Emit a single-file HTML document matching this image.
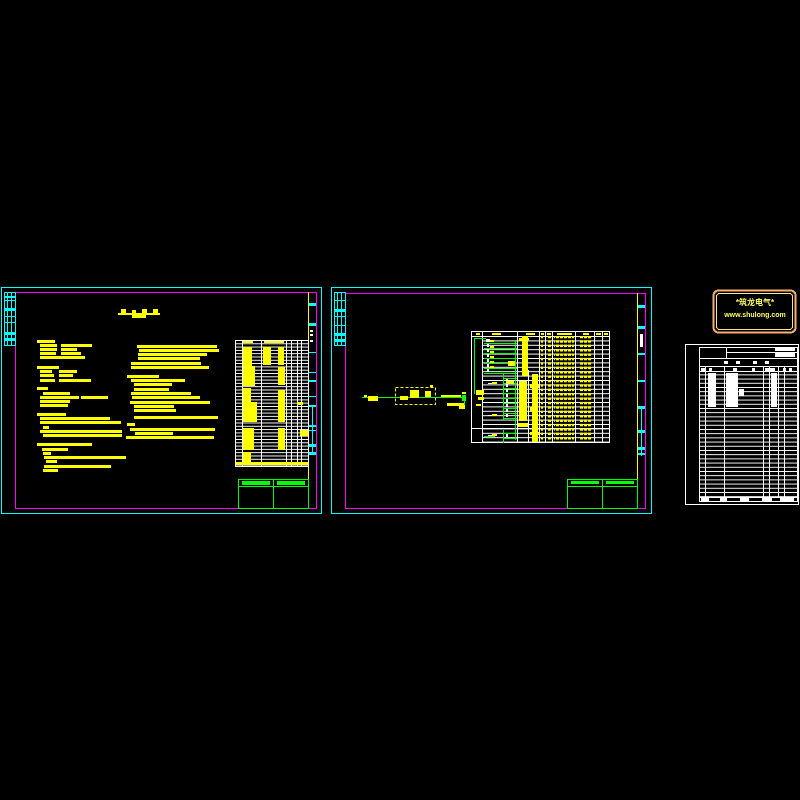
<!DOCTYPE html>
<html><head><meta charset="utf-8"><style>
html,body{margin:0;padding:0;background:#000;}
svg{display:block}
</style></head><body>
<svg width="800" height="800" viewBox="0 0 800 800" xmlns="http://www.w3.org/2000/svg" shape-rendering="crispEdges">
<defs>
<pattern id="rows1" x="0" y="340" width="10" height="3.3" patternUnits="userSpaceOnUse"><rect x="0" y="0" width="10" height="1" fill="#fff"/></pattern>
<pattern id="rows2" x="0" y="336" width="10" height="4.4" patternUnits="userSpaceOnUse"><rect x="0" y="0" width="10" height="1" fill="#fff"/></pattern>
<pattern id="rows3" x="0" y="366" width="10" height="4.2" patternUnits="userSpaceOnUse"><rect x="0" y="0" width="10" height="1" fill="#fff"/></pattern>
<pattern id="tx" x="0" y="0" width="4" height="4.4" patternUnits="userSpaceOnUse"><rect x="0" y="1.5" width="3" height="2.2" fill="#ff0"/></pattern>
</defs>
<rect width="800" height="800" fill="#000"/>

<!-- ========== SHEET 1 ========== -->
<g fill="none">
<rect x="1.5" y="287.5" width="320" height="226" stroke="#0ff"/>
<rect x="15.5" y="292.5" width="301" height="216" stroke="#f0f"/>
<line x1="308.5" y1="292" x2="308.5" y2="508" stroke="#ff0"/>
<rect x="4.5" y="292.5" width="11" height="53" stroke="#0ff"/>
</g>
<g fill="#0ff">
<rect x="5" y="296" width="10" height="2"/><rect x="5" y="300" width="10" height="1"/><rect x="5" y="308" width="10" height="3"/><rect x="5" y="316" width="10" height="1"/><rect x="5" y="322" width="10" height="1"/><rect x="5" y="332" width="10" height="3"/><rect x="5" y="338" width="10" height="3"/>
<rect x="7" y="293" width="1" height="52"/><rect x="11" y="293" width="1" height="52"/>
<rect x="309" y="303" width="7" height="3"/><rect x="309" y="323" width="7" height="3"/><rect x="309" y="352" width="7" height="1"/><rect x="309" y="380" width="7" height="2"/><rect x="309" y="405" width="7" height="2"/><rect x="309" y="425" width="7" height="2"/><rect x="309" y="430" width="7" height="1"/><rect x="309" y="444" width="7" height="3"/><rect x="309" y="452" width="7" height="3"/>
<rect x="309" y="372" width="7" height="1"/><rect x="309" y="396" width="7" height="1"/><rect x="312" y="405" width="1" height="50"/>
</g>
<g fill="#fff"><rect x="310" y="330" width="3" height="2"/><rect x="310" y="334" width="3" height="2"/><rect x="310" y="340" width="3" height="2"/></g>
<g fill="#ff0">
<rect x="118" y="313" width="42" height="2"/><rect x="121" y="309" width="5" height="5"/><rect x="132" y="310" width="4" height="3"/><rect x="142" y="309" width="5" height="5"/><rect x="153" y="309" width="5" height="5"/><rect x="132" y="315" width="14" height="3"/>
</g>
<g fill="#ff0">
<rect x="37" y="340" width="18" height="3"/>
<rect x="40" y="344" width="17" height="3"/><rect x="61" y="344" width="31" height="3"/>
<rect x="40" y="348" width="17" height="3"/><rect x="61" y="348" width="16" height="3"/>
<rect x="40" y="352" width="16" height="3"/><rect x="61" y="352" width="20" height="3"/>
<rect x="40" y="356" width="45" height="3"/>
<rect x="37" y="366" width="22" height="3"/>
<rect x="40" y="370" width="12" height="3"/><rect x="59" y="370" width="18" height="3"/>
<rect x="40" y="374" width="14" height="3"/><rect x="59" y="374" width="14" height="3"/>
<rect x="40" y="379" width="15" height="3"/><rect x="59" y="379" width="32" height="3"/>
<rect x="37" y="387" width="11" height="3"/>
<rect x="43" y="392" width="27" height="3"/>
<rect x="40" y="396" width="39" height="3"/><rect x="81" y="396" width="27" height="3"/>
<rect x="40" y="400" width="30" height="3"/>
<rect x="40" y="404" width="28" height="3"/>
<rect x="37" y="413" width="29" height="3"/>
<rect x="40" y="417" width="70" height="3"/>
<rect x="40" y="421" width="81" height="3"/>
<rect x="43" y="426" width="6" height="3"/>
<rect x="40" y="430" width="82" height="3"/>
<rect x="43" y="434" width="79" height="3"/>
<rect x="37" y="443" width="55" height="3"/>
<rect x="42" y="448" width="26" height="3"/>
<rect x="43" y="452" width="8" height="3"/>
<rect x="44" y="456" width="82" height="3"/>
<rect x="46" y="460" width="11" height="3"/>
<rect x="44" y="465" width="67" height="3"/>
<rect x="43" y="469" width="15" height="3"/>
</g>
<g fill="#ff0">
<rect x="137" y="345" width="80" height="3"/>
<rect x="139" y="349" width="80" height="3"/>
<rect x="138" y="353" width="69" height="3"/>
<rect x="138" y="357" width="62" height="3"/>
<rect x="131" y="362" width="70" height="3"/>
<rect x="131" y="366" width="78" height="3"/>
<rect x="127" y="375" width="32" height="3"/>
<rect x="131" y="379" width="54" height="3"/>
<rect x="134" y="383" width="38" height="3"/>
<rect x="134" y="388" width="35" height="3"/>
<rect x="131" y="392" width="60" height="3"/>
<rect x="132" y="396" width="68" height="3"/>
<rect x="130" y="401" width="80" height="3"/>
<rect x="134" y="405" width="40" height="3"/>
<rect x="134" y="409" width="42" height="3"/>
<rect x="134" y="416" width="84" height="3"/>
<rect x="127" y="423" width="8" height="3"/>
<rect x="130" y="428" width="85" height="3"/>
<rect x="135" y="432" width="38" height="3"/>
<rect x="126" y="436" width="88" height="3"/>
</g>
<rect x="235" y="340" width="74" height="126" fill="url(#rows1)"/>
<g fill="none" stroke="#fff">
<rect x="235.5" y="340.5" width="73" height="126"/>
<line x1="242.5" y1="340" x2="242.5" y2="466"/><line x1="261.5" y1="340" x2="261.5" y2="466"/><line x1="286.5" y1="340" x2="286.5" y2="466"/><line x1="291.5" y1="340" x2="291.5" y2="466"/><line x1="297.5" y1="340" x2="297.5" y2="466"/><line x1="301.5" y1="340" x2="301.5" y2="466"/>
</g>
<g fill="#ff0">
<rect x="243" y="341" width="10" height="2"/><rect x="264" y="341" width="20" height="2"/>
<rect x="243" y="347" width="9" height="20"/><rect x="263" y="347" width="8" height="18"/><rect x="278" y="347" width="6" height="18"/>
<rect x="243" y="366" width="12" height="20"/><rect x="278" y="367" width="7" height="18"/>
<rect x="243" y="388" width="8" height="20"/><rect x="278" y="390" width="7" height="18"/>
<rect x="243" y="402" width="14" height="20"/><rect x="278" y="402" width="7" height="20"/><rect x="297" y="402" width="6" height="3"/>
<rect x="243" y="428" width="11" height="22"/><rect x="278" y="428" width="7" height="22"/><rect x="300" y="430" width="8" height="6"/>
<rect x="243" y="452" width="8" height="10"/>
<rect x="236" y="462" width="72" height="3"/>
</g>
<g fill="none" stroke="#0f0">
<rect x="238.5" y="479.5" width="70" height="29"/>
<line x1="238" y1="486.5" x2="308" y2="486.5"/><line x1="273.5" y1="479" x2="273.5" y2="508"/>
</g>
<g fill="#0f0"><rect x="242" y="481" width="28" height="4"/><rect x="277" y="481" width="28" height="4"/></g>

<!-- ========== SHEET 2 ========== -->
<g fill="none">
<rect x="331.5" y="287.5" width="320" height="226" stroke="#0ff"/>
<rect x="345.5" y="293.5" width="300" height="215" stroke="#f0f"/>
<line x1="637.5" y1="293" x2="637.5" y2="509" stroke="#ff0"/>
<rect x="334.5" y="292.5" width="11" height="53" stroke="#0ff"/>
</g>
<g fill="#0ff">
<rect x="335" y="300" width="10" height="1"/><rect x="335" y="309" width="10" height="3"/><rect x="335" y="316" width="10" height="1"/><rect x="335" y="325" width="10" height="1"/><rect x="335" y="333" width="10" height="3"/><rect x="335" y="339" width="10" height="3"/>
<rect x="337" y="293" width="1" height="52"/><rect x="341" y="293" width="1" height="52"/>
<rect x="638" y="305" width="7" height="3"/><rect x="638" y="326" width="7" height="3"/><rect x="638" y="353" width="7" height="2"/><rect x="638" y="380" width="7" height="2"/><rect x="638" y="406" width="7" height="3"/><rect x="638" y="430" width="7" height="3"/><rect x="638" y="447" width="7" height="3"/><rect x="638" y="453" width="7" height="2"/>
<rect x="641" y="406" width="1" height="50"/>
</g>
<rect x="640" y="334" width="3" height="13" fill="#fff"/>
<g fill="none" stroke="#ff0" stroke-dasharray="3,2">
<rect x="395.5" y="387.5" width="40" height="17"/>
</g>
<rect x="362" y="397" width="102" height="1" fill="#0f0"/>
<g fill="#ff0">
<rect x="364" y="395" width="3" height="2"/><rect x="368" y="396" width="10" height="2"/><rect x="368" y="398" width="10" height="3"/>
<rect x="400" y="396" width="8" height="4"/><rect x="410" y="390" width="9" height="8"/><rect x="425" y="391" width="6" height="6"/><rect x="430" y="385" width="3" height="2"/>
<rect x="441" y="395" width="20" height="2"/><rect x="447" y="403" width="18" height="3"/><rect x="459" y="406" width="6" height="3"/><rect x="462" y="392" width="4" height="2"/>
</g>
<rect x="462" y="395" width="4" height="6" fill="#0f0"/>
<rect x="464" y="397" width="1" height="8" fill="#0f0"/>
<!-- table 2 -->
<rect x="471" y="336" width="139" height="107" fill="url(#rows2)"/>
<rect x="472" y="337" width="10" height="105" fill="#000"/>
<g fill="none" stroke="#fff">
<rect x="471.5" y="331.5" width="138" height="111"/>
<line x1="482.5" y1="331" x2="482.5" y2="443"/><line x1="517.5" y1="331" x2="517.5" y2="443"/><line x1="528.5" y1="370" x2="528.5" y2="443"/><line x1="539.5" y1="331" x2="539.5" y2="443"/><line x1="545.5" y1="331" x2="545.5" y2="443"/><line x1="552.5" y1="331" x2="552.5" y2="443"/><line x1="575.5" y1="331" x2="575.5" y2="443"/><line x1="594.5" y1="331" x2="594.5" y2="443"/><line x1="602.5" y1="331" x2="602.5" y2="443"/>
<line x1="471" y1="428.5" x2="610" y2="428.5"/>
</g>
<g fill="#0f0">
<rect x="474" y="338" width="12" height="1"/><rect x="474" y="338" width="1" height="56"/>
<rect x="484" y="343" width="33" height="1"/><rect x="484" y="348" width="33" height="1"/><rect x="484" y="353" width="33" height="1"/><rect x="484" y="358" width="33" height="1"/><rect x="484" y="363" width="33" height="1"/><rect x="484" y="368" width="33" height="1"/><rect x="484" y="373" width="33" height="1"/>
<rect x="503" y="373" width="1" height="47"/><rect x="503" y="430" width="1" height="13"/>
<rect x="503" y="378" width="14" height="1"/><rect x="503" y="383" width="14" height="1"/><rect x="503" y="388" width="14" height="1"/><rect x="503" y="393" width="14" height="1"/><rect x="503" y="398" width="14" height="1"/><rect x="503" y="403" width="14" height="1"/><rect x="503" y="408" width="14" height="1"/><rect x="503" y="413" width="14" height="1"/><rect x="503" y="418" width="14" height="1"/><rect x="503" y="433" width="14" height="1"/><rect x="503" y="438" width="14" height="1"/>
<rect x="484" y="436" width="11" height="1"/><rect x="515" y="340" width="1" height="100"/>
</g>
<g fill="#fff">
<rect x="486" y="339" width="4" height="3"/><rect x="487" y="344" width="2" height="3"/><rect x="487" y="349" width="2" height="3"/><rect x="487" y="354" width="2" height="3"/><rect x="487" y="359" width="2" height="3"/><rect x="487" y="364" width="2" height="3"/><rect x="487" y="369" width="2" height="3"/>
<rect x="506" y="379" width="2" height="3"/><rect x="506" y="384" width="2" height="3"/><rect x="506" y="389" width="2" height="3"/><rect x="506" y="394" width="2" height="3"/><rect x="506" y="399" width="2" height="3"/><rect x="506" y="404" width="2" height="3"/><rect x="506" y="409" width="2" height="3"/><rect x="506" y="414" width="2" height="3"/><rect x="506" y="434" width="2" height="3"/>
<rect x="488" y="383" width="8" height="1"/><rect x="488" y="415" width="8" height="1"/><rect x="488" y="435" width="8" height="1"/>
</g>
<g fill="#ff0">
<rect x="476" y="333" width="4" height="2"/><rect x="492" y="333" width="9" height="2"/><rect x="526" y="333" width="9" height="2"/><rect x="541" y="333" width="3" height="2"/><rect x="547" y="333" width="4" height="2"/><rect x="557" y="333" width="15" height="2"/><rect x="583" y="333" width="6" height="2"/><rect x="596" y="333" width="5" height="2"/><rect x="604" y="333" width="4" height="2"/>
<rect x="490" y="340" width="4" height="2"/><rect x="490" y="346" width="4" height="2"/><rect x="490" y="351" width="4" height="2"/><rect x="490" y="356" width="4" height="2"/><rect x="490" y="361" width="4" height="2"/><rect x="490" y="366" width="4" height="2"/>
<rect x="522" y="336" width="6" height="40"/><rect x="519" y="338" width="10" height="3"/><rect x="508" y="361" width="7" height="5"/><rect x="506" y="381" width="8" height="3"/>
<rect x="532" y="374" width="6" height="68"/><rect x="519" y="381" width="8" height="40"/><rect x="518" y="423" width="10" height="4"/><rect x="530" y="384" width="9" height="4"/><rect x="530" y="407" width="8" height="4"/><rect x="530" y="432" width="9" height="3"/>
<rect x="476" y="390" width="8" height="5"/><rect x="478" y="397" width="6" height="3"/><rect x="476" y="404" width="5" height="2"/>
<rect x="492" y="382" width="5" height="2"/><rect x="492" y="414" width="5" height="2"/><rect x="492" y="434" width="5" height="2"/>
</g>
<rect x="541" y="336" width="3" height="106" fill="url(#tx)"/>
<rect x="547" y="336" width="4" height="106" fill="url(#tx)"/>
<rect x="554" y="336" width="20" height="106" fill="url(#tx)"/>
<rect x="579" y="336" width="12" height="106" fill="url(#tx)"/>
<g fill="none" stroke="#0f0">
<rect x="567.5" y="479.5" width="70" height="29"/>
<line x1="567" y1="486.5" x2="637" y2="486.5"/><line x1="602.5" y1="479" x2="602.5" y2="509"/>
</g>
<g fill="#0f0"><rect x="571" y="481" width="28" height="3"/><rect x="606" y="481" width="28" height="3"/></g>

<!-- ========== SHEET 3 ========== -->
<rect x="713.5" y="290.5" width="82" height="42" rx="5" fill="#000" stroke="#f6b26b" stroke-width="2"/>
<rect x="716.5" y="293.5" width="76" height="36" rx="3" fill="none" stroke="#ffe599" stroke-width="1"/>
<text x="755" y="305" text-anchor="middle" font-family="Liberation Sans, 'Noto Sans CJK SC', sans-serif" font-size="8" font-weight="bold" fill="#ffff66">*筑龙电气*</text>
<text x="755" y="317" text-anchor="middle" font-family="Liberation Sans, sans-serif" font-size="7" font-weight="bold" fill="#ffff66">www.shulong.com</text>
<g fill="none" stroke="#fff">
<rect x="685.5" y="344.5" width="113" height="160"/>
<rect x="699.5" y="347.5" width="98" height="154"/>
<line x1="699" y1="358.5" x2="797" y2="358.5"/><line x1="699" y1="366.5" x2="797" y2="366.5"/><line x1="699" y1="371.5" x2="797" y2="371.5"/>
<line x1="726.5" y1="347" x2="726.5" y2="358"/><line x1="726" y1="352.5" x2="797" y2="352.5"/>
<line x1="705.5" y1="366" x2="705.5" y2="497"/><line x1="724.5" y1="366" x2="724.5" y2="497"/><line x1="763.5" y1="366" x2="763.5" y2="497"/><line x1="769.5" y1="366" x2="769.5" y2="497"/><line x1="778.5" y1="366" x2="778.5" y2="497"/><line x1="784.5" y1="366" x2="784.5" y2="497"/>
<line x1="699" y1="497.5" x2="797" y2="497.5"/>
</g>
<rect x="700" y="372" width="97" height="125" fill="url(#rows3)"/>
<g fill="#fff">
<rect x="775" y="348" width="20" height="3"/><rect x="775" y="353" width="20" height="4"/>
<rect x="724" y="361" width="4" height="3"/><rect x="736" y="361" width="4" height="3"/><rect x="753" y="361" width="4" height="3"/><rect x="765" y="361" width="4" height="3"/>
<rect x="701" y="368" width="5" height="3"/><rect x="709" y="368" width="3" height="3"/><rect x="733" y="368" width="4" height="3"/><rect x="752" y="368" width="3" height="3"/><rect x="765" y="368" width="10" height="3"/><rect x="783" y="368" width="3" height="3"/><rect x="789" y="368" width="3" height="3"/>
<rect x="708" y="373" width="8" height="34"/><rect x="726" y="373" width="12" height="34"/><rect x="739" y="389" width="5" height="7"/><rect x="771" y="373" width="6" height="34"/>
<rect x="701" y="498" width="8" height="3"/><rect x="720" y="498" width="7" height="3"/><rect x="740" y="498" width="9" height="3"/><rect x="762" y="498" width="10" height="3"/><rect x="780" y="498" width="14" height="3"/>
</g>
</svg>
</body></html>
